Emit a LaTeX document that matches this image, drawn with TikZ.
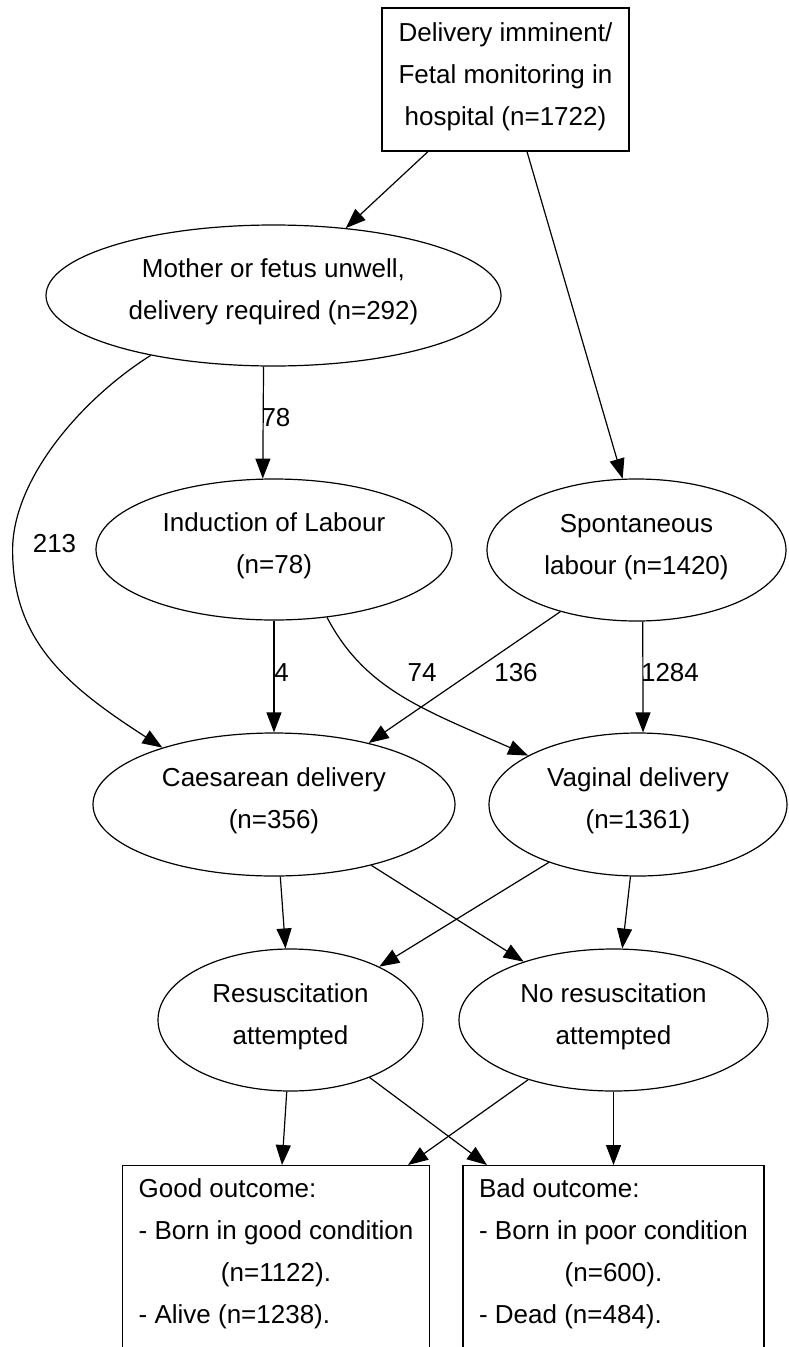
\documentclass[tikz,border=0pt]{standalone}
\usepackage{fontspec}
\setmainfont{Liberation Sans}
\usetikzlibrary{arrows.meta,shapes.geometric}
\begin{document}
\begin{tikzpicture}[x=1pt,y=-1pt,
  every node/.style={font=\fontsize{26}{42}\selectfont},
  oval/.style={draw, ellipse, line width=1.2pt, inner sep=0pt, align=center, text height=62pt, text depth=14pt},
  rbox/.style={draw, rectangle, line width=1.2pt, inner sep=0pt, align=center, text height=104pt, text depth=13pt},
  outbox/.style={draw, rectangle, line width=1.2pt, inner xsep=16pt, inner ysep=2.6pt, anchor=north},
  lbl/.style={inner sep=0pt},
  arr/.style={line width=1.2pt, -{Triangle[length=20pt,width=15pt]}}
]
\useasboundingbox (0,0) rectangle (788,1347);
\clip (0,0) rectangle (788,1347);

\node[rbox, minimum width=247pt, minimum height=143pt] (top) at (505.5,79.5)
  {Delivery imminent/\\Fetal monitoring in\\hospital (n=1722)};
\node[oval, minimum width=455pt, minimum height=141pt] (mother) at (273.5,295.5)
  {Mother or fetus unwell,\\delivery required (n=292)};
\node[oval, minimum width=356pt, minimum height=141pt] (ind) at (274,549.5)
  {Induction of Labour\\(n=78)};
\node[oval, minimum width=299pt, minimum height=142pt] (spont) at (636.5,550)
  {Spontaneous\\labour (n=1420)};
\node[oval, minimum width=362pt, minimum height=143pt] (caes) at (274,804.5)
  {Caesarean delivery\\(n=356)};
\node[oval, minimum width=298pt, minimum height=143pt] (vag) at (638,804.5)
  {Vaginal delivery\\(n=1361)};
\node[oval, minimum width=265pt, minimum height=142pt] (resus) at (290.5,1020)
  {Resuscitation\\attempted};
\node[oval, minimum width=309pt, minimum height=142pt] (nores) at (613.5,1020)
  {No resuscitation\\attempted};
\node[outbox] (good) at (276,1165)
  {\begin{tabular}{@{}l@{}}Good outcome:\\- Born in good condition\\\multicolumn{1}{@{}c@{}}{(n=1122).}\\- Alive (n=1238).\\\mbox{}\end{tabular}};
\node[outbox] (bad) at (613.5,1165)
  {\begin{tabular}{@{}l@{}}Bad outcome:\\- Born in poor condition\\\multicolumn{1}{@{}c@{}}{(n=600).}\\- Dead (n=484).\\\mbox{}\end{tabular}};

\coordinate (bend213) at (12.6,550);
\draw[arr] ([xshift=-77.5pt]top.south) -- (mother.43);
\draw[arr] ([xshift=21.5pt]top.south) -- (spont.101.5);
\draw[arr] (mother.262.4) -- (ind.99.7);
\draw[arr] (mother.206.7) .. controls (80,400) and (12.6,480) .. (bend213) .. controls (12.6,640) and (65,685) .. (caes.153.6);
\draw[arr] (ind.south) -- (caes.north);
\draw[arr] (ind.-52.3) .. controls (365,690) and (425,710) .. (vag.156.6);
\draw[arr] (spont.219) -- (caes.33.1);
\draw[arr] (spont.-85.6) -- (vag.86.8);
\draw[arr] (caes.-85.2) -- (resus.94.4);
\draw[arr] (caes.-32.8) -- (nores.147.6);
\draw[arr] (vag.-147.4) -- (resus.31.2);
\draw[arr] (vag.264.4) -- (nores.83.2);
\draw[arr] (resus.267.2) -- ([xshift=6pt]good.north);
\draw[arr] (resus.-36.1) -- ([xshift=-126.5pt]bad.north);
\draw[arr] (nores.215.1) -- ([xshift=132pt]good.north);
\draw[arr] (nores.south) -- (bad.north);

\node[lbl] (l78) at (276,417.5) {78};
\node[lbl] (l213) at (54.5,544) {213};
\node[lbl] (l4) at (281.5,672.5) {4};
\node[lbl] (l74) at (422,672.5) {74};
\node[lbl] (l136) at (516,672.5) {136};
\node[lbl] (l1284) at (670,672.5) {1284};
\end{tikzpicture}
\end{document}
